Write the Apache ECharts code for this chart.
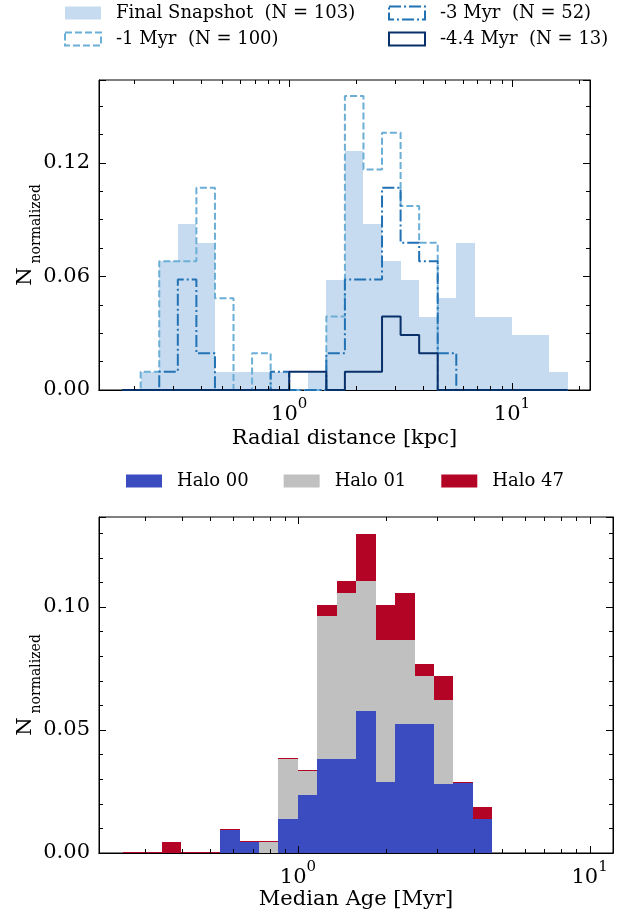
<!DOCTYPE html>
<html>
<head>
<meta charset="UTF-8">
<title>Radial distance and median age histograms</title>
<script src="https://cdn.jsdelivr.net/npm/echarts@6/dist/echarts.min.js"></script>
<style>
  body { margin: 0; background: #fff; }
  #main { width: 626px; height: 913px; }
</style>
</head>
<body>
<div id="main"></div>
<script>
// radial distance histogram: log spaced bin edges (kpc)
var radialEdges = [0.1778, 0.2154, 0.2610, 0.3162, 0.3831, 0.4642, 0.5623, 0.6813, 0.8254, 1.0,
  1.2115, 1.4678, 1.7783, 2.1544, 2.6102, 3.1623, 3.8312, 4.6416, 5.6234, 6.8129,
  8.2540, 10.0, 12.1153, 14.6780, 17.7828]
var finalSnapshot = [0, 0.0097, 0.0680, 0.0874, 0.0777, 0.0097, 0.0097, 0.0097, 0.0097, 0,
  0.0097, 0.0583, 0.1262, 0.0874, 0.0680, 0.0583, 0.0388, 0.0485, 0.0777, 0.0388,
  0.0388, 0.0291, 0.0291, 0.0097]
var minus1Myr = [0, 0.0097, 0.0680, 0.0680, 0.1068, 0.0485, 0, 0.0194, 0, 0,
  0, 0.0388, 0.1553, 0.1165, 0.1359, 0.0971, 0.0777, 0, 0, 0,
  0, 0, 0, 0]
var minus3Myr = [0, 0, 0.0097, 0.0583, 0.0194, 0, 0, 0, 0.0097, 0,
  0, 0.0194, 0.0583, 0.0583, 0.1068, 0.0777, 0.0680, 0.0194, 0, 0,
  0, 0, 0, 0]
var minus44Myr = [0, 0, 0, 0, 0, 0, 0, 0, 0, 0.0097,
  0.0097, 0, 0.0097, 0.0097, 0.0388, 0.0291, 0.0194, 0, 0, 0,
  0, 0, 0, 0]
var radialMajorTicks = [1, 10]
var radialMinorTicks = [0.2, 0.3, 0.4, 0.5, 0.6, 0.7, 0.8, 0.9, 2, 3, 4, 5, 6, 7, 8, 9, 20]

// median age histogram (stacked by halo)
var ageEdges = [0.2512, 0.2929, 0.3415, 0.3981, 0.4642, 0.5412, 0.6310, 0.7356, 0.8577, 1.0,
  1.1659, 1.3594, 1.5849, 1.8478, 2.1544, 2.5119, 2.9286, 3.4145, 3.9811, 4.6416]
var halo00 = [0, 0, 0, 0, 0, 0.0092, 0.0043, 0, 0.0139, 0.0237,
  0.0382, 0.0382, 0.0576, 0.0287, 0.0526, 0.0526, 0.0282, 0.0285, 0.0139]
var halo01 = [0, 0, 0, 0, 0, 0, 0, 0.0043, 0.0243, 0.0095,
  0.0580, 0.0675, 0.0528, 0.0577, 0.0338, 0.0195, 0.0341, 0, 0]
var halo47 = [0, 0, 0.0046, 0, 0, 0, 0, 0, 0, 0,
  0.0047, 0.0050, 0.0194, 0.0145, 0.0194, 0.0049, 0.0098, 0, 0.0050]
var ageMajorTicks = [1, 10]
var ageMinorTicks = [0.3, 0.4, 0.5, 0.6, 0.7, 0.8, 0.9, 2, 3, 4, 5, 6, 7, 8, 9]

var FONT = 'DejaVu Serif'
var C_FINAL = '#c6dbef', C_M1 = '#6baed6', C_M3 = '#2171b5', C_M44 = '#08306b'
var C_H00 = '#3b4cc0', C_H01 = '#c0c0c0', C_H47 = '#b40426'
var DASH = [7, 3], DASHDOT = [12, 3, 2, 3]

function stepPoints(edges, heights) {
  var pts = [[edges[0], 0]]
  for (var i = 0; i < heights.length; i++) {
    pts.push([edges[i], heights[i]])
    pts.push([edges[i + 1], heights[i]])
  }
  pts.push([edges[edges.length - 1], 0])
  return pts
}

// [left edge, right edge, bottom, top]
function barItems(edges, heights, bases) {
  return heights.map(function (h, i) {
    var b = bases ? bases[i] : 0
    return [edges[i], edges[i + 1], b, b + h]
  })
}

function addUp(a, b) {
  return a.map(function (v, i) { return v + b[i] })
}

function barRenderer(color, outline) {
  return function (params, api) {
    var p0 = api.coord([api.value(0), api.value(2)])
    var p1 = api.coord([api.value(1), api.value(3)])
    var x0 = Math.round(p0[0]), x1 = Math.round(p1[0])
    var y0 = Math.round(p0[1]), y1 = Math.round(p1[1])
    if (!outline && y0 === y1) return
    if (y0 === y1) {
      return {type: 'line', shape: {x1: x0, y1: y0 - 0.5, x2: x1, y2: y0 - 0.5},
        style: {stroke: color, lineWidth: 1}}
    }
    return {type: 'rect', shape: {x: x0, y: y1, width: x1 - x0, height: y0 - y1},
      style: {fill: color}}
  }
}

// x ticks (log axis) drawn on bottom and top edges, pointing inward
function tickRenderer(len) {
  return function (params, api) {
    var cs = params.coordSys
    var x = Math.round(api.coord([api.value(0), 0])[0]) + 0.5
    var bottom = cs.y + cs.height
    return {type: 'group', children: [
      {type: 'line', shape: {x1: x, y1: bottom, x2: x, y2: bottom - len}, style: {stroke: '#000', lineWidth: 1}},
      {type: 'line', shape: {x1: x, y1: cs.y, x2: x, y2: cs.y + len}, style: {stroke: '#000', lineWidth: 1}}
    ]}
  }
}

function tickSeries(name, xi, values, len) {
  return {
    name: name, type: 'custom', xAxisIndex: xi, yAxisIndex: xi, silent: true, z: 5,
    renderItem: tickRenderer(len), encode: {x: 0, y: 1},
    data: values.map(function (v) { return [v, 0] })
  }
}

function decadeLabel(v) {
  return '{b|10}{p|' + Math.round(Math.log10(v)) + '}'
}

function xAxes(gridIndex, min, max, title, gap) {
  var base = {
    type: 'log', logBase: 10, gridIndex: gridIndex, min: min, max: max,
    axisLine: {show: true, lineStyle: {color: '#000', width: 1}},
    axisTick: {show: false},
    splitLine: {show: false}
  }
  var bottom = Object.assign({}, base, {
    position: 'bottom',
    name: title, nameLocation: 'middle', nameGap: gap, nameMoveOverlap: false,
    nameTextStyle: {fontFamily: FONT, fontSize: 21, color: '#000'},
    axisLabel: {
      show: true, margin: 7, showMinLabel: false, showMaxLabel: false,
      formatter: decadeLabel,
      rich: {
        b: {fontFamily: FONT, fontSize: 21, color: '#000', lineHeight: 28, verticalAlign: 'bottom'},
        p: {fontFamily: FONT, fontSize: 15, color: '#000', lineHeight: 15, verticalAlign: 'top'}
      }
    }
  })
  var top = Object.assign({}, base, {position: 'top', axisLabel: {show: false}})
  return [bottom, top]
}

function yAxes(gridIndex, max, interval, minorSplit) {
  var base = {
    type: 'value', gridIndex: gridIndex, min: 0, max: max, interval: interval,
    axisLine: {show: true, lineStyle: {color: '#000', width: 1}},
    axisTick: {inside: true, length: 7, lineStyle: {color: '#000', width: 1}},
    minorTick: {show: true, splitNumber: minorSplit, length: 4, lineStyle: {color: '#000', width: 1}},
    splitLine: {show: false}
  }
  var left = Object.assign({}, base, {
    position: 'left',
    name: '{n|N}{s|normalized}', nameLocation: 'middle', nameGap: 56, nameMoveOverlap: false,
    nameTextStyle: {
      rich: {
        n: {fontFamily: FONT, fontSize: 21, color: '#000', lineHeight: 28, verticalAlign: 'top'},
        s: {fontFamily: FONT, fontSize: 14, color: '#000', lineHeight: 12, verticalAlign: 'bottom', padding: [0, 0, 0, 4]}
      }
    },
    axisLabel: {
      margin: 9, showMaxLabel: false, fontFamily: FONT, fontSize: 21, color: '#000',
      formatter: function (v) { return v.toFixed(2) }
    }
  })
  var right = Object.assign({}, base, {position: 'right', axisLabel: {show: false}})
  return [left, right]
}

var legendText = {fontFamily: FONT, fontSize: 18, color: '#000', padding: [0, 0, 0, 10]}

var halo01Base = halo00
var halo47Base = addUp(halo00, halo01)

var chart = echarts.init(document.getElementById('main'))
chart.setOption({
  animation: false,
  backgroundColor: '#fff',
  grid: [
    {left: 99, top: 80, width: 491, height: 310, show: true, borderColor: '#000', borderWidth: 1, outerBoundsMode: 'none'},
    {left: 99, top: 517, width: 514, height: 336, show: true, borderColor: '#000', borderWidth: 1, outerBoundsMode: 'none'}
  ],
  legend: [
    {
      orient: 'vertical', left: 64, top: 4, padding: 0, itemWidth: 36, itemHeight: 13, itemGap: 8,
      selectedMode: false, textStyle: legendText,
      data: [
        {name: 'Final Snapshot  (N = 103)', icon: 'rect', itemStyle: {color: C_FINAL, borderWidth: 0}},
        {name: '-1 Myr  (N = 100)', icon: 'rect',
          itemStyle: {color: 'rgba(255,255,255,0)', borderColor: C_M1, borderWidth: 2, borderType: DASH}}
      ]
    },
    {
      orient: 'vertical', left: 388, top: 4, padding: 0, itemWidth: 36, itemHeight: 13, itemGap: 8,
      selectedMode: false, textStyle: legendText,
      data: [
        {name: '-3 Myr  (N = 52)', icon: 'rect',
          itemStyle: {color: 'rgba(255,255,255,0)', borderColor: C_M3, borderWidth: 2, borderType: DASHDOT}},
        {name: '-4.4 Myr  (N = 13)', icon: 'rect',
          itemStyle: {color: 'rgba(255,255,255,0)', borderColor: C_M44, borderWidth: 2, borderType: 'solid'}}
      ]
    },
    {
      orient: 'horizontal', left: 126, top: 472, padding: 0, itemWidth: 36, itemHeight: 13, itemGap: 35,
      selectedMode: false, textStyle: legendText,
      data: [
        {name: 'Halo 00', icon: 'rect', itemStyle: {color: C_H00}},
        {name: 'Halo 01', icon: 'rect', itemStyle: {color: C_H01}},
        {name: 'Halo 47', icon: 'rect', itemStyle: {color: C_H47}}
      ]
    }
  ],
  xAxis: xAxes(0, 0.14, 22.4, 'Radial distance [kpc]', 38).concat(xAxes(1, 0.208, 12.03, 'Median Age [Myr]', 36)),
  yAxis: yAxes(0, 0.1637, 0.06, 4).concat(yAxes(1, 0.1366, 0.05, 5)),
  series: [
    {
      name: 'Final Snapshot  (N = 103)', type: 'custom', xAxisIndex: 0, yAxisIndex: 0,
      color: C_FINAL, renderItem: barRenderer(C_FINAL, false),
      encode: {x: [0, 1], y: [2, 3]}, data: barItems(radialEdges, finalSnapshot)
    },
    {
      name: '-1 Myr  (N = 100)', type: 'line', xAxisIndex: 0, yAxisIndex: 0, color: C_M1,
      showSymbol: false, symbol: 'none', lineStyle: {color: C_M1, width: 2, type: DASH},
      data: stepPoints(radialEdges, minus1Myr)
    },
    {
      name: '-3 Myr  (N = 52)', type: 'line', xAxisIndex: 0, yAxisIndex: 0, color: C_M3,
      showSymbol: false, symbol: 'none', lineStyle: {color: C_M3, width: 2, type: DASHDOT},
      data: stepPoints(radialEdges, minus3Myr)
    },
    {
      name: '-4.4 Myr  (N = 13)', type: 'line', xAxisIndex: 0, yAxisIndex: 0, color: C_M44,
      showSymbol: false, symbol: 'none', lineStyle: {color: C_M44, width: 2},
      data: stepPoints(radialEdges, minus44Myr)
    },
    tickSeries('radial major ticks', 0, radialMajorTicks, 7),
    tickSeries('radial minor ticks', 0, radialMinorTicks, 4),
    {
      name: 'Halo 00', type: 'custom', xAxisIndex: 2, yAxisIndex: 2, color: C_H00,
      renderItem: barRenderer(C_H00, true), encode: {x: [0, 1], y: [2, 3]},
      data: barItems(ageEdges, halo00)
    },
    {
      name: 'Halo 01', type: 'custom', xAxisIndex: 2, yAxisIndex: 2, color: C_H01,
      renderItem: barRenderer(C_H01, true), encode: {x: [0, 1], y: [2, 3]},
      data: barItems(ageEdges, halo01, halo01Base)
    },
    {
      name: 'Halo 47', type: 'custom', xAxisIndex: 2, yAxisIndex: 2, color: C_H47,
      renderItem: barRenderer(C_H47, true), encode: {x: [0, 1], y: [2, 3]},
      data: barItems(ageEdges, halo47, halo47Base)
    },
    tickSeries('age major ticks', 2, ageMajorTicks, 7),
    tickSeries('age minor ticks', 2, ageMinorTicks, 4)
  ]
})
</script>
</body>
</html>
